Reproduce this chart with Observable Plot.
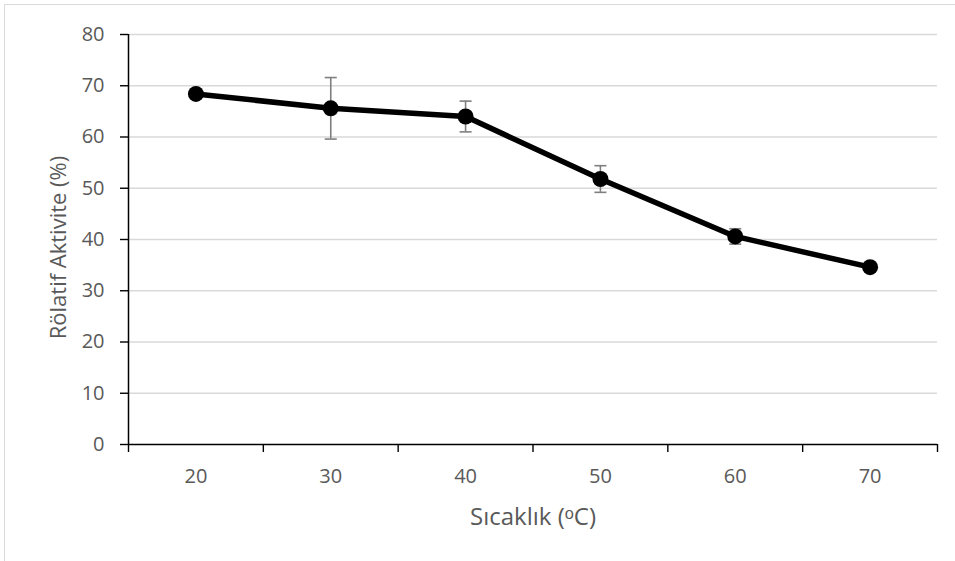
<!DOCTYPE html>
<html>
<head>
<meta charset="utf-8">
<script src="https://cdn.jsdelivr.net/npm/d3@7"></script>
<script src="https://cdn.jsdelivr.net/npm/@observablehq/plot@0.6"></script>
<style>
  html, body { margin: 0; padding: 0; background: #fff; }
  #wrap { position: relative; width: 955px; height: 561px; overflow: hidden; }
  #border { position: absolute; left: 4px; top: 4px; width: 960px; height: 600px; border: 1px solid #d9d9d9; box-sizing: border-box; }
  #chart { position: absolute; left: 0; top: 0; }
</style>
</head>
<body>
<div id="wrap"><div id="border"></div><div id="chart"></div></div>
<script>
const temps = [20, 30, 40, 50, 60, 70];
const activity = [68.4, 65.6, 64.0, 51.8, 40.6, 34.6];
const errors = [0.5, 6.0, 3.0, 2.6, 1.5, 0.8];
const yTicks = [0, 10, 20, 30, 40, 50, 60, 70, 80];
const xBoundaryTicks = [15, 25, 35, 45, 55, 65, 75];

const data = temps.map((t, i) => ({t, v: activity[i], lo: activity[i] - errors[i], hi: activity[i] + errors[i]}));

const capSymbol = { draw(ctx, size) { ctx.moveTo(-6, 0); ctx.lineTo(6, 0); } };

const textColor = "#595959";
const font = "'Open Sans', 'Liberation Sans', sans-serif";

const plot = Plot.plot({
  width: 955,
  height: 561,
  marginLeft: 128,
  marginRight: 18,
  marginTop: 34,
  marginBottom: 117,
  style: { fontFamily: font, fontSize: "20px", color: textColor, background: "transparent" },
  x: { domain: [15, 75] },
  y: { domain: [0, 80] },
  marks: [
    Plot.gridY(yTicks.filter(d => d > 0), { stroke: "#d9d9d9", strokeOpacity: 1, strokeWidth: 1.4 }),
    Plot.axisY(yTicks, { tickSize: 8, tickPadding: 16, stroke: "#000", strokeWidth: 1.4, fill: textColor, fontSize: 20, label: null }),
    Plot.axisX(xBoundaryTicks, { tickSize: 8, stroke: "#000", strokeWidth: 1.4, tickFormat: () => "", label: null }),
    Plot.axisX(temps, { tickSize: 0, tickPadding: 24, fill: textColor, fontSize: 20, label: null }),
    Plot.ruleX([15], { stroke: "#000", strokeWidth: 1.5 }),
    Plot.ruleY([0], { stroke: "#000", strokeWidth: 1.5 }),
    Plot.ruleX(data, { x: "t", y1: "lo", y2: "hi", stroke: "#7f7f7f", strokeWidth: 1.6 }),
    Plot.dot(data, { x: "t", y: "lo", symbol: capSymbol, stroke: "#7f7f7f", strokeWidth: 1.6, fill: "none" }),
    Plot.dot(data, { x: "t", y: "hi", symbol: capSymbol, stroke: "#7f7f7f", strokeWidth: 1.6, fill: "none" }),
    Plot.line(data, { x: "t", y: "v", stroke: "#000", strokeWidth: 5.5, curve: "linear" }),
    Plot.dot(data, { x: "t", y: "v", r: 8, fill: "#000", stroke: "none" }),
    Plot.text(["Sıcaklık (ᵒC)"], { frameAnchor: "bottom", lineAnchor: "middle", textAnchor: "middle", dy: 73, fontSize: 24, fill: textColor, text: d => d }),
    Plot.text(["Rölatif Aktivite (%)"], { frameAnchor: "left", lineAnchor: "middle", textAnchor: "middle", dx: -70, dy: 8, rotate: -90, fontSize: 22, fill: textColor, text: d => d })
  ]
});
d3.select(plot).selectAll('g[aria-label$="tick label"]').attr("font-size", 20).selectAll("text").style("font-size", "20px");
document.getElementById("chart").appendChild(plot);
</script>
</body>
</html>
